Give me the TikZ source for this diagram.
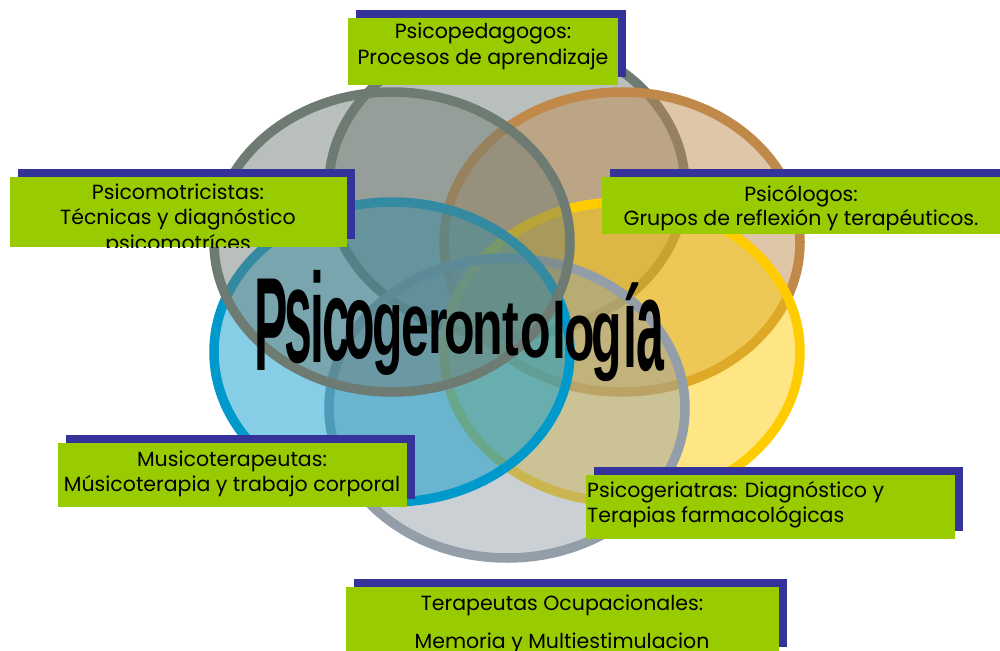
\documentclass[tikz,border=0pt]{standalone}
\usepackage{fontspec}
\setmainfont{Poppins}
\newfontfamily\wordfont{Liberation Sans}
\usetikzlibrary{shadows}
\definecolor{cgray}{HTML}{6E7B73}
\definecolor{cbrown}{HTML}{C0894A}
\definecolor{cyellow}{HTML}{FFCC00}
\definecolor{cslate}{HTML}{949EA8}
\definecolor{cblue}{HTML}{0099CC}
\definecolor{lgreen}{HTML}{99CC00}
\definecolor{navy}{HTML}{333399}
\tikzset{
  venn/.style={draw=#1, fill=#1, fill opacity=0.48, line width=9.5pt},
  lbox/.style={fill=lgreen, draw=none, inner sep=0pt, outer sep=0pt, anchor=north west,
    drop shadow={shadow xshift=8pt, shadow yshift=8pt, fill=navy, opacity=1}},
  ltext/.style={font=\fontsize{20.5}{24}\selectfont, inner sep=0pt, anchor=base, text=black},
  wletter/.style={font=\wordfont\bfseries\fontsize{100}{100}\selectfont, inner sep=0pt, anchor=base, text=black},
}
\begin{document}
\begin{tikzpicture}[x=1pt,y=-1pt]
\useasboundingbox (0,0) rectangle (1000,650);
\fill[white] (0,0) rectangle (1000,650);
% Venn ellipses (drawing order = stacking order)
\path[venn=cgray]   (507,186) ellipse [x radius=178pt, y radius=150pt];
\path[venn=cbrown]  (622,242) ellipse [x radius=178pt, y radius=150pt];
\path[venn=cyellow] (622,352) ellipse [x radius=178pt, y radius=150pt];
\path[venn=cslate]  (507,408) ellipse [x radius=178pt, y radius=150pt];
\path[venn=cblue]   (392,352) ellipse [x radius=178pt, y radius=150pt];
\path[venn=cgray]   (392,242) ellipse [x radius=178pt, y radius=150pt];
% central word, deflated shape
\foreach \ch/\cx/\by/\h [count=\k] in {P/271/370/69, s/298/362/70, i/317/362/66, c/336/360/60, o/360/358/56,
  g/388/355/49, e/415/355/47, r/438/353/42, o/460/353/40, n/488/354/41, t/511/355/41, o/536/357/42,
  l/559/358/41, o/580/360/43, g/607/362/47, í/630/367/60, a/650/370/68} {
  \pgfmathsetmacro\sy{\h/51.9}
  \node[wletter] (w\k) at (\cx,\by) {\scalebox{0.5}[\sy]{\ch}};
}
% labels
\node[lbox, minimum width=270pt, minimum height=67pt] (b1) at (348,18) {};
\node[ltext] (t1a) at (483,39) {Psicopedagogos:};
\node[ltext] (t1b) at (483,65) {Procesos de aprendizaje};

\node[lbox, minimum width=337pt, minimum height=70pt] (b2) at (10,177) {};
\begin{scope}
\clip (b2.north west) rectangle (b2.south east);
\node[ltext] (t2a) at (178,199) {Psicomotricistas:};
\node[ltext] (t2b) at (178,224) {Técnicas y diagnóstico};
\node[ltext] (t2c) at (178,250) {psicomotríces};
\end{scope}

\node[lbox, minimum width=403pt, minimum height=57pt] (b3) at (602,177) {};
\node[ltext] (t3a) at (801,201) {Psicólogos:};
\node[ltext] (t3b) at (801,225) {Grupos de reflexión y terapéuticos.};

\node[lbox, minimum width=349pt, minimum height=64pt] (b4) at (58,443) {};
\node[ltext] (t4a) at (232,466) {Musicoterapeutas:};
\node[ltext] (t4b) at (232,491) {Músicoterapia y trabajo corporal};

\node[lbox, minimum width=369pt, minimum height=64pt] (b5) at (586,475) {};
\node[ltext, anchor=base west] (t5a) at (587,497) {Psicogeriatras: Diagnóstico y};
\node[ltext, anchor=base west] (t5b) at (587,522) {Terapias farmacológicas};

\node[lbox, minimum width=433pt, minimum height=68pt] (b6) at (346,587) {};
\node[ltext] (t6a) at (562,610) {Terapeutas Ocupacionales:};
\node[ltext] (t6b) at (562,648) {Memoria y Multiestimulacion};
\end{tikzpicture}
\end{document}
